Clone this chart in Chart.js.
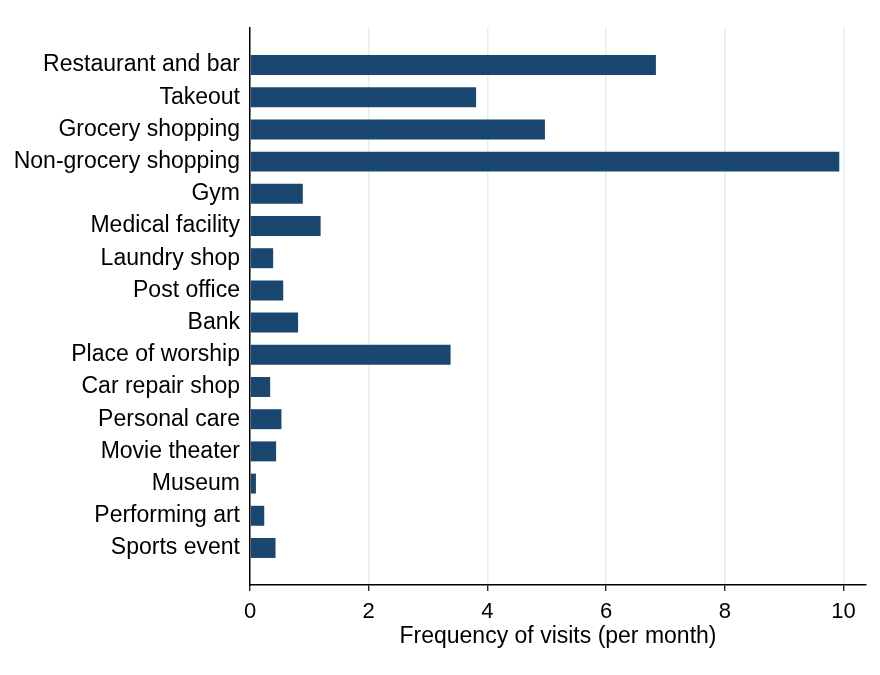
<!DOCTYPE html>
<html>
<head>
<meta charset="utf-8">
<script src="https://cdn.jsdelivr.net/npm/chart.js@4/dist/chart.umd.min.js"></script>
<style>
  html, body { margin: 0; padding: 0; background: #ffffff; }
  #wrap { width: 880px; height: 675px; position: relative; }
</style>
</head>
<body>
<div id="wrap"><canvas id="c" width="880" height="675"></canvas></div>
<script>
// Business types, top to bottom
const categories = [
  'Restaurant and bar', 'Takeout', 'Grocery shopping', 'Non-grocery shopping',
  'Gym', 'Medical facility', 'Laundry shop', 'Post office', 'Bank',
  'Place of worship', 'Car repair shop', 'Personal care', 'Movie theater',
  'Museum', 'Performing art', 'Sports event'
];
// Mean visits per month for each business type
const visits = [
  6.84, 3.81, 4.97, 9.93,
  0.89, 1.19, 0.39, 0.56, 0.81,
  3.38, 0.34, 0.53, 0.44,
  0.10, 0.24, 0.43
];
const xTicks = [0, 2, 4, 6, 8, 10];

const FONT = '"Liberation Sans", Arial, Helvetica, sans-serif';
const points = visits.map((v, i) => ({ x: v, y: i }));

new Chart(document.getElementById('c'), {
  type: 'bar',
  data: {
    datasets: [{
      data: points,
      backgroundColor: '#1a476f',
      borderWidth: 0,
      categoryPercentage: 1,
      barPercentage: 0.62
    }]
  },
  options: {
    indexAxis: 'y',
    responsive: false,
    animation: false,
    layout: { padding: { top: 28, right: 14, left: 0, bottom: 25 } },
    plugins: { legend: { display: false }, tooltip: { enabled: false } },
    scales: {
      y: {
        type: 'linear',
        reverse: true,
        offset: false,
        min: -1.15,
        max: 16.15,
        afterFit: s => { s.width = 250; },
        afterBuildTicks: s => { s.ticks = categories.map((_, i) => ({ value: i })); },
        ticks: {
          autoSkip: false,
          color: '#000',
          font: { family: FONT, size: 23 },
          padding: 2,
          callback: v => categories[v] ?? ''
        },
        grid: { display: false, offset: false },
        border: { display: true, color: '#000', width: 1.5 }
      },
      x: {
        type: 'linear',
        min: 0,
        max: 10.38,
        afterBuildTicks: s => { s.ticks = xTicks.map(v => ({ value: v })); },
        afterFit: s => { s.height = 65; },
        ticks: {
          color: '#000',
          font: { family: FONT, size: 22 },
          padding: 8,
          maxRotation: 0
        },
        grid: { color: '#e4eeef', lineWidth: 1.5, tickLength: 6, tickColor: '#000', tickWidth: 1.2 },
        border: { display: true, color: '#000', width: 1.5 },
        title: {
          display: true,
          text: 'Frequency of visits (per month)',
          color: '#000',
          font: { family: FONT, size: 23 },
          padding: { top: 0, bottom: 0 }
        }
      }
    }
  }
});
</script>
</body>
</html>
